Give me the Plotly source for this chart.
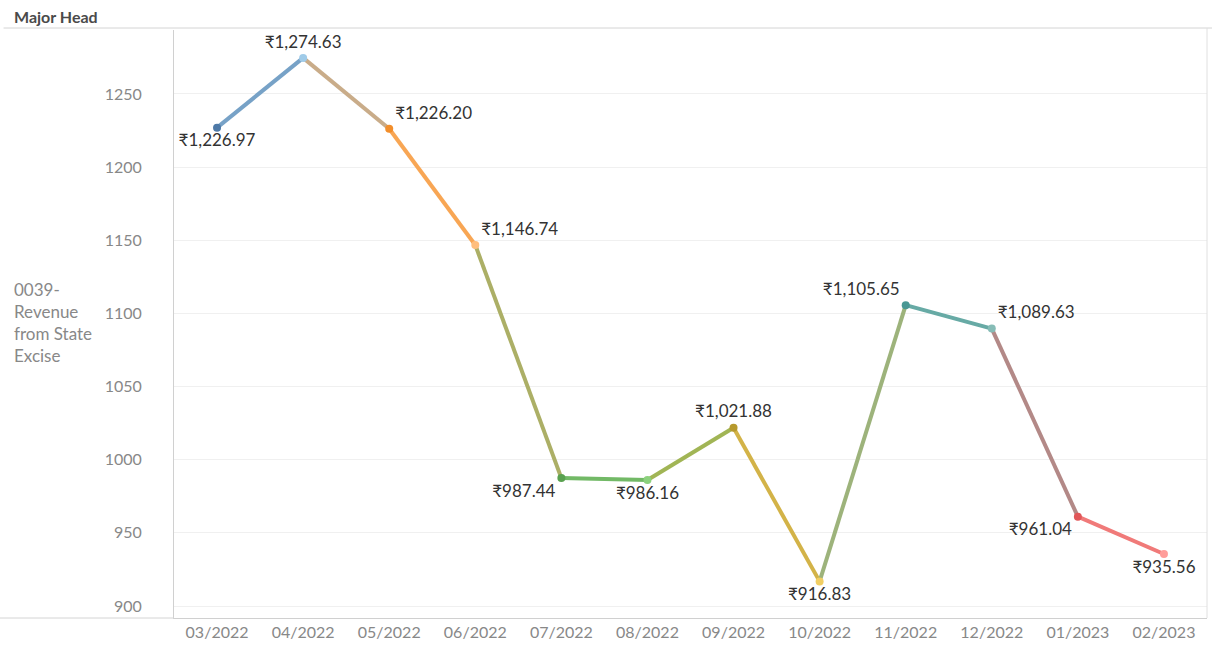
import plotly.graph_objects as go

months = ["03/2022", "04/2022", "05/2022", "06/2022", "07/2022", "08/2022",
          "09/2022", "10/2022", "11/2022", "12/2022", "01/2023", "02/2023"]
revenue = [1226.97, 1274.63, 1226.20, 1146.74, 987.44, 986.16,
           1021.88, 916.83, 1105.65, 1089.63, 961.04, 935.56]
point_colors = ["#4e79a7", "#a0cbe8", "#f28e2b", "#ffbe7d", "#59a14f", "#8cd17d",
                "#b6992d", "#f1ce63", "#499894", "#86bcb6", "#e15759", "#ff9d9a"]
label_pos = ["bottom center", "top center", "top right", "top right", "bottom left", "bottom center",
             "top center", "bottom center", "top left", "top right", "bottom left", "bottom center"]

FONT = "Lato, Noto Sans, sans-serif"


def blend(c1, c2):
    a = [int(c1[i:i + 2], 16) for i in (1, 3, 5)]
    b = [int(c2[i:i + 2], 16) for i in (1, 3, 5)]
    return "#" + "".join(f"{(x + y) // 2:02x}" for x, y in zip(a, b))


fig = go.Figure()

# Tableau draws a colour gradient between points; approximate with blended segments
for i in range(len(months) - 1):
    fig.add_trace(go.Scatter(
        x=months[i:i + 2], y=revenue[i:i + 2], mode="lines",
        line=dict(color=blend(point_colors[i], point_colors[i + 1]), width=4),
        hoverinfo="skip", showlegend=False,
    ))

fig.add_trace(go.Scatter(
    x=months, y=revenue, mode="markers+text",
    marker=dict(color=point_colors, size=8),
    text=[f"₹{v:,.2f}" for v in revenue],
    textposition=label_pos,
    textfont=dict(size=17, color="#333333", family=FONT),
    showlegend=False,
))

fig.update_layout(
    width=1212, height=649,
    margin=dict(l=174, r=5, t=30, b=31),
    paper_bgcolor="white", plot_bgcolor="white",
    font=dict(family=FONT, color="#888888", size=16),
    xaxis=dict(
        type="category", range=[-0.5, 11.5], showgrid=False,
        tickfont=dict(size=16, color="#888888"), ticks="", ticklen=0,
        showline=True, linecolor="#d0d0d0", linewidth=1,
    ),
    yaxis=dict(
        range=[891.8, 1293.7], tickvals=[900, 950, 1000, 1050, 1100, 1150, 1200, 1250],
        showgrid=True, gridcolor="#f0f0f0", zeroline=False,
        tickfont=dict(size=16, color="#888888"), ticks="outside", ticklen=28, tickcolor="white",
        showline=True, linecolor="#d0d0d0", linewidth=1,
    ),
    shapes=[
        dict(type="line", xref="paper", yref="paper", x0=-0.165, x1=1.01, y0=1.0034, y1=1.0034,
             line=dict(color="#d4d4d4", width=1)),
        dict(type="line", xref="paper", yref="paper", x0=-0.17, x1=0, y0=0, y1=0,
             line=dict(color="#d4d4d4", width=1)),
        dict(type="line", xref="paper", yref="paper", x0=1, x1=1, y0=0, y1=1.0034,
             line=dict(color="#e0e0e0", width=1)),
    ],
    annotations=[
        dict(text="<b>Major Head</b>", xref="paper", yref="paper", x=-0.157, y=1.0034,
             xanchor="left", yanchor="bottom", showarrow=False,
             font=dict(size=16, color="#4a4a4a", family=FONT)),
        dict(text="0039-<br>Revenue<br>from State<br>Excise", xref="paper", yref="paper",
             x=-0.157, y=0.503, xanchor="left", yanchor="middle", align="left", showarrow=False,
             font=dict(size=17, color="#888888", family=FONT)),
    ],
)

# drop the page's default body margin so the chart sits at the window's corner
fig.write_html("out.html", config={"displayModeBar": False},
               post_script="document.body.style.margin='0';")
